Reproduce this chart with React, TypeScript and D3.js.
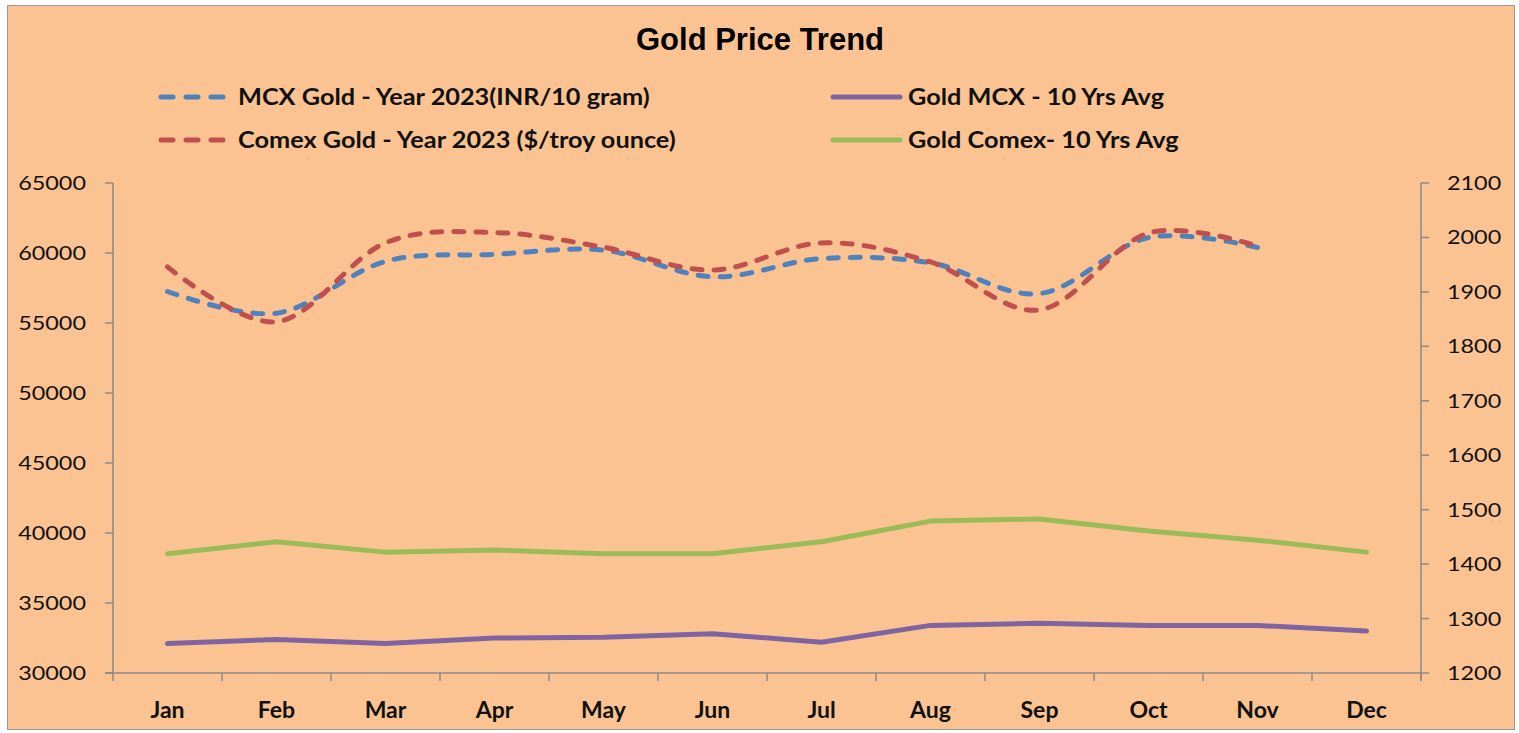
import * as d3 from 'd3';
import type { ReactNode } from 'react';

const months = ['Jan', 'Feb', 'Mar', 'Apr', 'May', 'Jun', 'Jul', 'Aug', 'Sep', 'Oct', 'Nov', 'Dec'];

// MCX Gold 2023 (INR/10 gram) - left axis, Jan..Nov
const mcx2023 = [57250, 55700, 59400, 59900, 60200, 58300, 59600, 59300, 57100, 61100, 60400];
// Comex Gold 2023 ($/troy ounce) - right axis, Jan..Nov
const comex2023 = [1946, 1845, 1990, 2009, 1982, 1940, 1990, 1955, 1867, 2008, 1984];
// 10 year averages
const mcxAvg = [32100, 32400, 32100, 32500, 32550, 32800, 32200, 33400, 33550, 33400, 33400, 33000];
const comexAvg = [1419, 1441, 1422, 1426, 1419, 1419, 1441, 1479, 1483, 1461, 1444, 1422];

const leftTicks = [30000, 35000, 40000, 45000, 50000, 55000, 60000, 65000];
const rightTicks = [1200, 1300, 1400, 1500, 1600, 1700, 1800, 1900, 2000, 2100];

const W = 1519;
const H = 733;
const plot = { left: 113, right: 1421, top: 183, bottom: 673 };

const BG = '#FCC392';
const AXIS = '#8a8a8a';
const TXT = '#111111';
const BLUE = '#4F81BD';
const RED = '#C0504D';
const PURPLE = '#8064A2';
const GREEN = '#9BBB59';
const FONT = 'Lato, "Open Sans", sans-serif';

// text stretched horizontally around its anchor point
function SText(props: {
  x: number; y: number; sx: number; size: number; weight?: number;
  anchor?: 'start' | 'middle' | 'end'; children: ReactNode;
}) {
  const { x, y, sx, size, weight = 400, anchor = 'start', children } = props;
  return (
    <text transform={`translate(${x},${y}) scale(${sx},1)`} dy="0.35em" textAnchor={anchor}
      fontFamily={FONT} fontSize={size} fontWeight={weight} fill={TXT}>
      {children}
    </text>
  );
}

export default function App() {
  const x = d3.scaleBand<string>().domain(months).range([plot.left, plot.right]).padding(0);
  const cx = (m: string) => (x(m) ?? 0) + x.bandwidth() / 2;
  const yL = d3.scaleLinear().domain([30000, 65000]).range([plot.bottom, plot.top]);
  const yR = d3.scaleLinear().domain([1200, 2100]).range([plot.bottom, plot.top]);

  const smooth = (vals: number[], y: d3.ScaleLinear<number, number>) =>
    d3.line<number>()
      .x((_, i) => cx(months[i]))
      .y(d => y(d))
      .curve(d3.curveCardinal.tension(0))(vals) ?? '';
  const straight = (vals: number[], y: d3.ScaleLinear<number, number>) =>
    d3.line<number>()
      .x((_, i) => cx(months[i]))
      .y(d => y(d))(vals) ?? '';

  const bounds = months.map(m => x(m) ?? 0).concat([plot.right]);

  const legend = [
    { label: 'MCX Gold - Year 2023(INR/10 gram)', color: BLUE, dashed: true, x: 158, y: 97 },
    { label: 'Comex Gold - Year 2023 ($/troy ounce)', color: RED, dashed: true, x: 158, y: 140 },
    { label: 'Gold MCX - 10 Yrs Avg', color: PURPLE, dashed: false, x: 830, y: 97 },
    { label: 'Gold Comex- 10 Yrs Avg', color: GREEN, dashed: false, x: 830, y: 140 },
  ];

  return (
    <svg width={W} height={H} style={{ position: 'absolute', left: 0, top: 0 }}>
      <rect x={0} y={0} width={W} height={H} fill="#ffffff" />
      <rect x={7.5} y={5.5} width={1507} height={724} fill={BG} stroke="#9a9a9a" strokeWidth={1} />

      <text x={760} y={50} textAnchor="middle" fontFamily='"Liberation Sans", Arial, sans-serif' fontWeight={700} fontSize={31} fill="#000">
        Gold Price Trend
      </text>

      {legend.map(l => (
        <g key={l.label}>
          <line x1={l.x + 3} x2={l.x + (l.dashed ? 65 : 70)} y1={l.y} y2={l.y} stroke={l.color} strokeWidth={5}
            strokeLinecap="round" strokeDasharray={l.dashed ? '12,13' : undefined} />
          <SText x={l.dashed ? l.x + 80 : l.x + 78} y={l.y} sx={1.1} size={23} weight={700}>{l.label}</SText>
        </g>
      ))}

      {/* left axis */}
      <line x1={plot.left} x2={plot.left} y1={plot.top} y2={plot.bottom} stroke={AXIS} strokeWidth={1.5} />
      {leftTicks.map(t => (
        <g key={t}>
          <line x1={plot.left - 8} x2={plot.left} y1={yL(t)} y2={yL(t)} stroke={AXIS} strokeWidth={1.5} />
          <SText x={86} y={yL(t)} sx={1.17} size={20} anchor="end">{t}</SText>
        </g>
      ))}

      {/* right axis */}
      <line x1={plot.right} x2={plot.right} y1={plot.top} y2={plot.bottom + 8} stroke={AXIS} strokeWidth={1.5} />
      {rightTicks.map(t => (
        <g key={t}>
          <line x1={plot.right} x2={plot.right + 8} y1={yR(t)} y2={yR(t)} stroke={AXIS} strokeWidth={1.5} />
          <SText x={1447} y={yR(t)} sx={1.17} size={20}>{t}</SText>
        </g>
      ))}

      {/* x axis */}
      <line x1={plot.left - 8} x2={plot.right} y1={plot.bottom} y2={plot.bottom} stroke={AXIS} strokeWidth={1.5} />
      {bounds.map((b, i) => (
        <line key={i} x1={b} x2={b} y1={plot.bottom} y2={plot.bottom + 8} stroke={AXIS} strokeWidth={1.5} />
      ))}
      {months.map(m => (
        <SText key={m} x={cx(m)} y={710} sx={1} size={23} weight={700} anchor="middle">{m}</SText>
      ))}

      {/* series */}
      <path d={straight(comexAvg, yR)} fill="none" stroke={GREEN} strokeWidth={5} strokeLinecap="round" strokeLinejoin="round" />
      <path d={straight(mcxAvg, yL)} fill="none" stroke={PURPLE} strokeWidth={5} strokeLinecap="round" strokeLinejoin="round" />
      <path d={smooth(mcx2023, yL)} fill="none" stroke={BLUE} strokeWidth={5} strokeLinecap="round" strokeDasharray="10,12" />
      <path d={smooth(comex2023, yR)} fill="none" stroke={RED} strokeWidth={5} strokeLinecap="round" strokeDasharray="10,12" />
    </svg>
  );
}
